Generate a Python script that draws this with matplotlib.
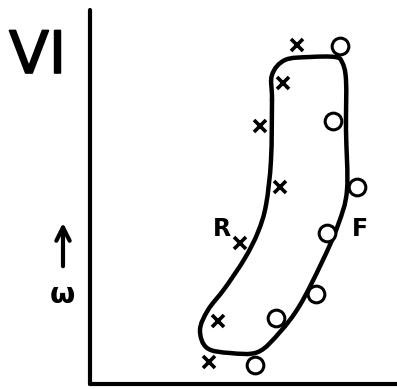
import numpy as np
import matplotlib
matplotlib.use("Agg")
import matplotlib.pyplot as plt
from matplotlib.path import Path
from matplotlib.patches import PathPatch
import matplotlib.patheffects as pe

# Rising-branch points (R) and falling-branch points (F)
r_x = [207, 193, 170, 190, 150, 128, 119]
r_y = [339, 301, 258, 197, 141, 63, 22]
f_x = [250, 243, 267, 237, 226, 186, 165]
f_y = [338, 263, 197, 151, 90, 66, 19]

# Closed outline enclosing both branches
loop_x = [182, 182, 195, 220, 245, 252, 256, 256, 257, 248, 232, 210, 190,
          168, 140, 117, 110, 118, 135, 155, 168, 176, 181]
loop_y = [284, 309, 324, 327, 327, 322, 304, 254, 194, 159, 122, 79, 52,
          32, 31, 36, 54, 74, 96, 126, 152, 179, 224]

panel_label = "VI"
axis_label = "ω"

fig = plt.figure(figsize=(3.97, 3.89), dpi=100)
W, H = 397, 389
x0, y0, y_top = 90, 384, 10
ax = fig.add_axes([x0 / W, (H - y0) / H, (W - x0) / W, (y0 - y_top) / H])
ax.set_xlim(0, W - x0)
ax.set_ylim(0, y0 - y_top)
ax.set_xticks([])
ax.set_yticks([])
for side in ("top", "right"):
    ax.spines[side].set_visible(False)
for side in ("left", "bottom"):
    ax.spines[side].set_linewidth(3.0)
    ax.spines[side].set_capstyle("round")
    ax.spines[side].set_zorder(5)


def closed_smooth_path(xs, ys):
    pts = np.column_stack([xs, ys]).astype(float)
    n = len(pts)
    verts = [pts[0]]
    codes = [Path.MOVETO]
    for i in range(n):
        p0, p1 = pts[i - 1], pts[i]
        p2, p3 = pts[(i + 1) % n], pts[(i + 2) % n]
        c1 = p1 + (p2 - p0) / 6.0
        c2 = p2 - (p3 - p1) / 6.0
        verts += [c1, c2, p2]
        codes += [Path.CURVE4] * 3
    return Path(np.array(verts), codes)


loop = PathPatch(closed_smooth_path(loop_x, loop_y), facecolor="none",
                 edgecolor="black", lw=3.2, joinstyle="round", capstyle="round")
ax.add_patch(loop)

ax.plot(r_x, r_y, linestyle="none", marker="x", markersize=9,
        markeredgewidth=2.6, color="black", clip_on=False, zorder=4)
ax.plot(f_x, f_y, linestyle="none", marker="o", markersize=12,
        markeredgewidth=2.2, markerfacecolor="white", markeredgecolor="black",
        clip_on=False, zorder=4)

ax.text(132, 155, "R", fontsize=17, fontweight="bold", ha="center",
        va="center")
ax.text(270, 155, "F", fontsize=17, fontweight="bold", ha="center",
        va="center")

ax.text(-81, 311, panel_label, fontsize=42, ha="left", va="baseline",
        clip_on=False,
        path_effects=[pe.withStroke(linewidth=1.2, foreground="black",
                                    capstyle="round", joinstyle="round")])

ax.annotate("", xy=(-27, 164), xytext=(-27, 115),
            arrowprops=dict(arrowstyle="->", lw=3, color="black",
                            mutation_scale=24),
            annotation_clip=False)
ax.text(-28, 89, axis_label, fontsize=21, fontweight="bold", ha="center",
        va="center", clip_on=False)

fig.savefig("out.png", dpi=100, facecolor="white")
